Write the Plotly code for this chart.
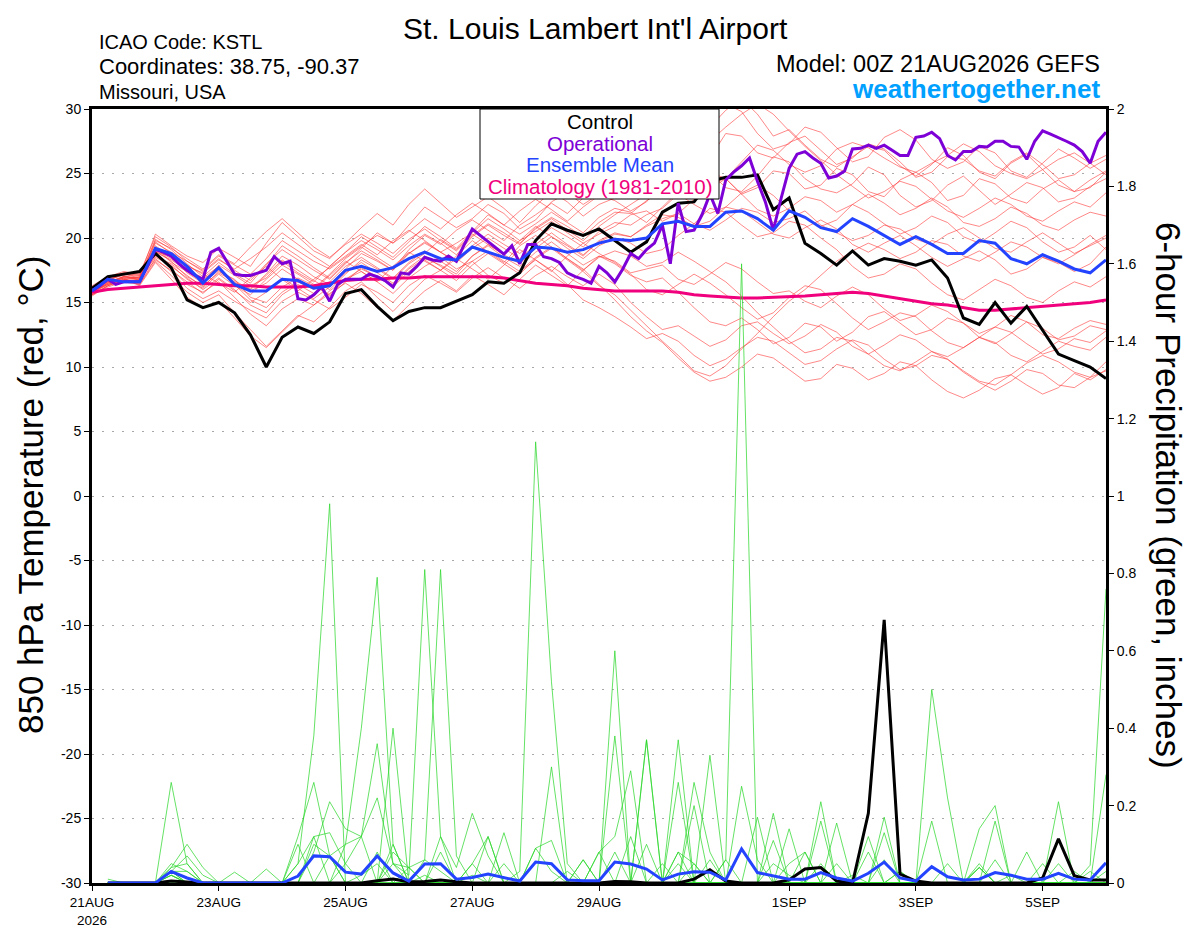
"""
GEFS 850 hPa temperature / 6-hour precipitation plume for KSTL
"""

import pandas as pd
import plotly.graph_objects as go

RUN_START = "2026-08-21 00:00"

# 850 hPa temperature (C), 6-hourly, 0..384 h
control_temp = [
    16.1, 17.0, 17.2, 17.4, 18.8, 17.7, 15.2, 14.6,
    15.0, 14.2, 12.5, 10.0, 12.3, 13.1, 12.6, 13.5,
    15.7, 16.0, 14.7, 13.6, 14.3, 14.6, 14.6, 15.1,
    15.6, 16.6, 16.5, 17.3, 19.8, 21.1, 20.6, 20.2,
    20.7, 19.8, 18.9, 19.7, 22.0, 22.7, 22.8, 24.4,
    24.7, 24.7, 24.9, 22.2, 23.1, 19.6, 18.8, 17.9,
    19.0, 17.9, 18.4, 18.2, 17.9, 18.3, 16.9, 13.8,
    13.3, 15.0, 13.4, 14.7, 12.9, 11.0, 10.5, 10.0, 9.1,
]
mean_temp = [
    15.9, 16.8, 16.6, 16.6, 19.2, 18.8, 17.8, 16.5,
    17.7, 16.4, 15.9, 15.9, 16.8, 16.7, 16.1, 16.3,
    17.5, 17.8, 17.4, 17.7, 18.4, 18.9, 18.4, 18.3,
    19.3, 18.9, 18.5, 18.2, 19.3, 19.2, 18.9, 19.1,
    19.6, 19.9, 19.8, 20.0, 21.1, 21.3, 20.9, 20.9,
    22.0, 22.1, 21.5, 20.6, 22.1, 21.6, 20.8, 20.5,
    21.5, 20.9, 20.2, 19.5, 20.1, 19.5, 18.8, 18.8,
    19.8, 19.6, 18.4, 18.0, 18.7, 18.2, 17.6, 17.3, 18.3,
]
clim_temp = [
    15.8, 16.0, 16.1, 16.2, 16.3, 16.4, 16.5, 16.5,
    16.4, 16.3, 16.3, 16.2, 16.2, 16.2, 16.3, 16.5,
    16.7, 16.8, 16.8, 16.9, 16.9, 17.0, 17.0, 17.0,
    17.0, 17.0, 16.9, 16.7, 16.5, 16.4, 16.3, 16.1,
    16.0, 15.9, 15.9, 15.9, 15.9, 15.8, 15.6, 15.5,
    15.4, 15.35, 15.35, 15.4, 15.4, 15.5, 15.6, 15.7,
    15.8, 15.7, 15.5, 15.3, 15.1, 14.9, 14.8, 14.6,
    14.4, 14.4, 14.5, 14.6, 14.7, 14.8, 14.9, 15.0, 15.2,
]
# operational run is 3-hourly, 0..384 h
oper_temp = [
    15.9, 16.3, 16.8, 16.4, 16.6, 16.6, 16.6, 17.8,
    19.1, 18.9, 18.6, 18.0, 17.5, 17.1, 16.8, 18.9,
    19.2, 18.2, 17.2, 17.1, 17.1, 17.3, 17.5, 18.55,
    18.0, 18.2, 15.3, 15.2, 15.6, 16.2, 15.1, 16.4,
    16.8, 16.8, 16.8, 17.2, 17.0, 16.7, 16.2, 17.3,
    17.2, 17.8, 18.5, 18.3, 18.2, 18.6, 18.2, 19.5,
    20.7, 20.2, 19.7, 19.2, 18.75, 19.4, 18.0, 19.5,
    19.5, 18.55, 18.4, 18.1, 17.3, 17.0, 16.8, 16.5,
    17.8, 17.3, 16.6, 17.6, 18.8, 18.4, 19.1, 19.6,
    21.0, 18.0, 22.7, 20.5, 20.6, 21.8, 23.4, 21.9,
    24.5, 25.1, 25.6, 26.2, 24.4, 22.8, 20.6, 23.1,
    25.4, 26.5, 26.7, 26.2, 25.8, 24.65, 24.8, 25.2,
    26.9, 26.95, 27.2, 26.95, 27.2, 26.8, 26.4, 26.4,
    27.8, 27.9, 28.2, 27.7, 26.4, 26.05, 26.7, 26.7,
    27.1, 27.05, 27.5, 27.5, 27.1, 27.05, 26.1, 27.5,
    28.3, 28.05, 27.8, 27.5, 27.2, 26.7, 25.8, 27.5, 28.2,
]

member_temps = [
    [15.8, 16.6, 17.0, 16.9, 19.6, 18.9, 18.2, 17.5,
     18.6, 17.9, 17.2, 18.4, 19.8, 19.0, 18.2, 17.6,
     18.5, 19.4, 20.2, 19.6, 21.0, 22.4, 21.6, 20.8,
     21.5, 22.6, 21.9, 20.7, 21.4, 22.8, 23.5, 22.6,
     23.4, 24.1, 25.3, 25.0, 26.2, 27.4, 28.9, 29.6,
     30.4, 29.8, 28.1, 26.9, 27.3, 28.6, 28.2, 27.0,
     25.9, 26.3, 27.8, 28.4, 27.6, 26.1, 25.4, 25.9,
     27.1, 26.6, 25.2, 24.7, 25.8, 26.9, 26.2, 25.4, 26.1],
    [16.2, 16.9, 17.3, 17.1, 18.8, 17.6, 16.4, 15.8,
     16.6, 15.4, 14.1, 13.2, 14.5, 15.3, 14.8, 15.9,
     16.8, 17.4, 16.6, 15.7, 16.9, 17.8, 18.5, 17.6,
     18.2, 17.1, 16.5, 17.4, 18.3, 17.5, 16.4, 15.2,
     14.6, 13.9, 13.1, 12.2, 12.6, 12.0, 10.9, 10.1,
     10.6, 11.5, 12.3, 12.0, 11.1, 10.2, 10.5, 11.4,
     12.1, 11.7, 10.6, 9.8, 10.1, 10.9, 10.6, 9.7,
     8.9, 8.6, 9.4, 10.3, 10.9, 10.4, 9.6, 9.2, 10.4],
    [15.9, 16.4, 16.8, 16.5, 19.1, 18.4, 17.6, 16.9,
     17.8, 16.5, 16.1, 17.2, 18.6, 17.9, 17.0, 16.4,
     17.6, 18.8, 18.2, 17.5, 18.8, 19.6, 18.9, 18.2,
     19.4, 20.3, 19.5, 18.8, 19.9, 20.8, 20.1, 19.3,
     20.5, 21.2, 21.0, 21.8, 22.3, 23.4, 22.6, 21.9,
     22.4, 23.5, 24.1, 23.3, 22.1, 21.6, 20.9, 21.4,
     22.6, 22.0, 21.1, 20.3, 20.8, 21.7, 21.2, 20.1,
     19.6, 20.4, 21.3, 20.8, 19.7, 18.9, 19.3, 20.2, 19.1],
    [15.6, 16.2, 16.6, 16.4, 18.2, 17.1, 15.8, 15.0,
     15.6, 14.2, 12.9, 11.6, 12.8, 14.0, 13.5, 14.6,
     15.9, 16.6, 15.4, 14.3, 15.6, 16.8, 17.5, 18.4,
     17.6, 16.8, 17.9, 19.1, 18.3, 17.4, 18.6, 19.6,
     18.8, 18.1, 17.2, 16.0, 15.6, 16.4, 17.2, 16.5,
     15.6, 14.6, 13.7, 14.2, 15.4, 16.3, 16.0, 14.9,
     13.8, 12.9, 13.5, 14.2, 13.9, 12.8, 11.9, 11.5,
     12.3, 13.1, 12.7, 11.8, 11.0, 11.4, 12.2, 11.9, 12.8],
    [16.0, 16.7, 17.2, 17.0, 20.3, 19.4, 18.6, 18.1,
     19.2, 18.5, 17.8, 19.6, 21.2, 20.1, 19.0, 18.4,
     19.6, 20.8, 21.9, 21.0, 22.6, 23.8, 22.7, 21.6,
     22.4, 23.2, 22.3, 21.2, 22.5, 23.6, 22.8, 21.7,
     22.6, 23.1, 24.5, 24.1, 23.2, 24.4, 25.7, 25.1,
     23.9, 23.6, 24.8, 26.3, 25.9, 24.6, 23.8, 23.5,
     24.2, 25.5, 24.9, 23.3, 22.4, 22.9, 24.1, 24.8,
     23.7, 22.6, 23.4, 24.3, 23.9, 22.8, 23.1, 24.0, 24.6],
    [15.7, 16.5, 16.9, 16.8, 18.6, 18.0, 17.1, 16.2,
     17.4, 16.8, 15.4, 15.0, 16.2, 16.9, 16.3, 15.6,
     16.8, 17.6, 17.0, 16.4, 17.6, 18.4, 17.9, 17.2,
     18.6, 19.5, 18.7, 18.0, 19.2, 20.1, 19.4, 18.6,
     19.8, 20.4, 20.1, 20.9, 21.5, 21.9, 21.1, 20.6,
     21.4, 22.3, 22.0, 21.2, 21.5, 22.1, 21.0, 20.4,
     19.8, 20.2, 21.0, 20.7, 19.9, 19.5, 20.3, 20.8,
     20.0, 19.2, 18.9, 19.7, 20.4, 19.6, 18.8, 19.4, 20.0],
    [16.1, 16.8, 17.1, 16.7, 19.4, 18.5, 17.3, 16.5,
     17.5, 16.4, 15.2, 14.6, 15.8, 16.6, 16.0, 17.1,
     18.2, 17.4, 16.6, 17.8, 18.9, 18.2, 17.5, 18.6,
     19.8, 18.9, 18.1, 19.4, 20.2, 19.3, 18.4, 17.6,
     16.4, 15.2, 13.9, 12.8, 11.9, 10.7, 9.6, 8.9,
     9.2, 10.0, 11.0, 10.7, 9.8, 8.9, 9.1, 10.2,
     9.9, 9.0, 9.5, 10.4, 10.1, 9.0, 8.1, 7.6,
     8.2, 9.1, 9.4, 8.6, 7.9, 8.4, 9.5, 9.0, 9.8],
    [15.5, 16.3, 16.7, 16.6, 18.9, 18.6, 17.9, 17.2,
     16.5, 15.8, 16.9, 17.8, 16.8, 15.9, 16.8, 17.7,
     18.6, 19.5, 18.7, 19.8, 20.6, 19.8, 18.9, 19.6,
     20.4, 21.5, 20.7, 19.8, 20.5, 21.3, 20.4, 19.6,
     20.3, 20.9, 21.8, 22.1, 21.3, 21.9, 23.0, 24.2,
     24.6, 23.4, 22.2, 21.7, 22.3, 23.2, 22.9, 22.0,
     22.6, 23.4, 22.7, 21.8, 22.3, 23.1, 22.4, 21.2,
     20.9, 21.5, 22.4, 21.9, 21.0, 20.6, 21.4, 22.0, 21.7],
    [16.0, 16.6, 17.0, 16.9, 19.9, 19.1, 18.0, 17.0,
     18.1, 17.2, 16.5, 17.9, 19.4, 18.6, 17.7, 16.9,
     18.1, 19.0, 18.3, 17.5, 19.1, 20.2, 19.5, 20.6,
     21.4, 20.6, 19.8, 21.0, 21.8, 22.7, 21.9, 23.1,
     24.2, 23.7, 23.1, 24.4, 25.8, 26.9, 27.4, 28.6,
     29.9, 30.8, 29.6, 27.9, 28.4, 27.2, 26.1, 25.5,
     26.3, 27.1, 26.8, 25.6, 24.8, 25.7, 27.0, 26.4,
     25.1, 24.6, 25.8, 26.5, 25.3, 24.1, 23.6, 24.5, 25.2],
    [15.8, 16.4, 16.8, 16.4, 18.4, 17.4, 16.1, 15.3,
     15.9, 15.1, 14.4, 13.8, 15.1, 15.8, 15.2, 14.5,
     15.4, 16.4, 15.8, 15.0, 16.3, 17.1, 16.5, 15.8,
     16.9, 17.7, 16.9, 16.1, 17.1, 17.8, 17.0, 16.3,
     17.2, 16.4, 15.0, 13.9, 12.9, 13.2, 12.4, 11.6,
     12.1, 13.2, 13.5, 12.6, 11.8, 12.4, 13.3, 12.7,
     11.6, 11.0, 11.7, 12.5, 12.1, 11.2, 10.8, 11.5,
     12.3, 11.9, 10.9, 10.4, 11.2, 12.0, 11.6, 11.3, 12.3],
    [15.9, 16.7, 17.2, 17.1, 19.3, 18.1, 17.4, 16.6,
     17.9, 17.1, 16.3, 16.9, 18.2, 17.3, 16.6, 17.8,
     18.9, 19.8, 19.1, 18.3, 19.4, 20.3, 19.6, 18.7,
     20.1, 21.0, 20.2, 19.5, 20.8, 21.6, 20.9, 20.1,
     21.2, 22.0, 21.9, 22.9, 23.6, 23.1, 24.2, 25.1,
     24.6, 23.4, 23.9, 25.2, 25.0, 23.8, 24.1, 25.4,
     24.9, 23.6, 23.2, 24.5, 25.1, 24.3, 22.9, 23.3,
     24.6, 24.2, 23.1, 22.7, 23.8, 24.5, 23.6, 23.9, 25.1],
    [16.3, 17.0, 17.4, 17.2, 18.7, 17.8, 16.9, 16.0,
     16.9, 16.0, 14.8, 14.2, 15.6, 16.4, 15.7, 16.6,
     17.8, 18.5, 17.7, 16.9, 18.1, 19.0, 18.2, 17.4,
     18.6, 19.4, 18.5, 17.8, 18.9, 19.7, 18.8, 17.9,
     18.6, 18.0, 17.1, 16.6, 16.9, 15.8, 14.6, 13.5,
     13.2, 13.8, 12.9, 11.8, 12.3, 13.4, 13.1, 12.0,
     12.7, 13.9, 14.3, 13.4, 12.5, 12.9, 13.8, 13.4,
     12.3, 11.8, 12.6, 13.5, 13.0, 12.1, 12.4, 13.2, 12.9],
    [15.6, 16.3, 16.8, 16.7, 19.7, 18.8, 17.8, 17.3,
     18.3, 17.6, 18.4, 19.3, 20.4, 19.5, 18.6, 17.8,
     18.9, 20.1, 19.3, 18.5, 19.7, 20.9, 20.1, 19.2,
     20.5, 21.8, 21.0, 20.3, 21.1, 22.0, 21.2, 20.4,
     21.6, 22.3, 22.0, 21.2, 22.4, 23.6, 24.1, 26.2,
     28.1, 27.9, 26.6, 26.2, 27.4, 27.9, 26.8, 25.7,
     26.2, 27.3, 26.9, 25.9, 24.7, 25.1, 26.3, 26.1,
     25.2, 24.8, 25.9, 26.6, 25.7, 24.6, 24.9, 25.8, 24.9],
    [16.1, 16.6, 16.9, 16.3, 18.1, 16.8, 15.4, 14.6,
     15.1, 13.8, 12.4, 11.5, 12.7, 13.9, 14.8, 15.7,
     16.5, 15.7, 14.6, 13.6, 14.8, 15.9, 16.7, 15.9,
     17.1, 16.4, 15.6, 16.8, 17.9, 17.1, 16.3, 17.5,
     18.6, 18.2, 17.3, 17.6, 17.9, 16.8, 16.4, 17.2,
     18.1, 17.6, 16.6, 15.7, 15.9, 15.1, 14.6, 15.5,
     16.2, 15.6, 14.5, 13.6, 14.0, 14.8, 14.3, 13.4,
     12.6, 13.1, 14.0, 13.5, 12.5, 12.2, 13.0, 13.6, 13.3],
    [15.8, 16.5, 17.0, 16.9, 19.8, 19.2, 18.4, 17.6,
     18.7, 18.0, 19.3, 20.5, 21.5, 20.4, 19.3, 18.5,
     19.5, 20.3, 19.6, 18.8, 19.9, 20.7, 19.8, 19.0,
     20.2, 21.1, 20.4, 19.6, 20.7, 21.5, 20.6, 19.8,
     20.9, 21.8, 22.6, 23.4, 24.1, 25.2, 26.4, 27.5,
     28.6, 29.6, 30.4, 29.6, 28.3, 27.1, 26.0, 24.9,
     24.0, 23.1, 23.6, 24.4, 24.0, 23.0, 22.1, 21.6,
     22.3, 23.1, 22.6, 21.7, 21.3, 22.1, 22.8, 22.4, 23.5],
    [15.7, 16.4, 16.9, 16.8, 18.5, 17.9, 16.8, 16.1,
     17.2, 16.3, 15.6, 16.8, 17.9, 17.2, 16.4, 15.5,
     16.6, 17.7, 17.0, 16.2, 17.4, 18.3, 17.5, 16.7,
     17.9, 18.8, 18.0, 17.2, 18.4, 19.2, 18.3, 17.4,
     16.3, 15.6, 14.4, 13.2, 12.0, 10.9, 9.7, 9.3,
     10.1, 11.4, 12.6, 13.9, 15.1, 16.0, 17.1, 18.2,
     19.0, 19.6, 19.1, 18.4, 18.9, 19.8, 19.5, 18.6,
     18.2, 18.9, 19.7, 19.3, 18.5, 18.0, 18.7, 19.5, 20.2],
    [16.2, 16.9, 17.3, 17.2, 20.1, 19.3, 18.2, 17.4,
     18.4, 17.5, 16.7, 18.0, 19.1, 18.3, 17.5, 16.8,
     18.0, 19.2, 20.4, 19.6, 20.5, 21.5, 20.7, 21.8,
     22.7, 21.9, 21.0, 22.1, 23.0, 22.2, 21.3, 22.4,
     23.3, 22.9, 22.1, 22.8, 24.3, 25.1, 24.7, 23.8,
     24.6, 25.9, 27.2, 26.8, 25.7, 25.1, 25.6, 26.9,
     27.4, 27.0, 26.2, 25.5, 25.1, 25.8, 26.4, 27.3,
     26.7, 25.6, 25.0, 24.6, 25.3, 26.1, 26.6, 25.8, 26.4],
    [15.9, 16.5, 17.0, 16.8, 18.3, 17.5, 16.6, 15.7,
     16.8, 15.9, 15.0, 15.8, 16.9, 16.1, 15.3, 16.2,
     17.3, 18.1, 17.3, 16.5, 17.7, 18.6, 17.8, 17.0,
     18.2, 19.0, 18.2, 17.4, 18.5, 19.3, 18.4, 17.5,
     18.5, 19.0, 18.6, 17.8, 18.1, 18.9, 18.2, 17.4,
     16.6, 15.5, 14.2, 13.1, 12.0, 11.1, 11.4, 12.3,
     12.0, 11.0, 10.1, 9.7, 10.4, 11.2, 10.6, 9.6,
     8.8, 8.2, 8.9, 9.8, 9.5, 8.6, 8.4, 9.2, 9.7],
    [16.0, 16.8, 17.2, 16.9, 19.0, 18.2, 17.0, 16.3,
     17.3, 16.6, 15.9, 16.5, 17.6, 16.8, 16.1, 17.2,
     18.4, 19.3, 18.5, 17.7, 18.8, 19.7, 18.9, 18.1,
     19.2, 20.0, 19.2, 18.4, 19.5, 20.4, 19.5, 18.7,
     19.7, 20.3, 20.1, 21.0, 21.8, 21.6, 20.9, 21.3,
     22.4, 22.1, 21.2, 20.3, 20.0, 20.8, 21.4, 20.7,
     19.5, 18.9, 19.6, 20.2, 19.4, 18.5, 17.8, 18.4,
     19.0, 18.3, 17.2, 17.6, 18.5, 18.1, 17.4, 18.0, 19.3],
    [15.6, 16.3, 16.7, 16.5, 18.9, 18.3, 17.5, 16.8,
     17.6, 16.7, 16.0, 17.1, 18.3, 17.5, 16.7, 16.0,
     17.2, 18.3, 17.6, 16.8, 18.0, 18.8, 19.9, 19.1,
     20.3, 19.5, 18.7, 19.8, 20.9, 20.1, 19.2, 18.4,
     19.4, 20.0, 19.6, 18.8, 19.1, 20.2, 21.1, 22.3,
     22.0, 21.0, 20.1, 20.4, 21.3, 21.0, 20.0, 19.1,
     17.8, 16.9, 17.2, 18.0, 17.6, 16.5, 15.6, 15.2,
     16.0, 16.8, 16.3, 15.4, 15.0, 15.9, 16.6, 16.2, 17.0],
]

# 6-hour precipitation (inches), 6..384 h
control_precip = [
    0, 0, 0, 0, 0.005, 0.003, 0, 0,
    0, 0, 0, 0, 0, 0, 0, 0,
    0, 0.006, 0.01, 0.003, 0.004, 0.008, 0.003, 0,
    0, 0, 0, 0, 0, 0, 0, 0,
    0.004, 0.003, 0, 0, 0, 0.01, 0.034, 0.005,
    0, 0, 0, 0.008, 0.036, 0.04, 0.005, 0,
    0.18, 0.68, 0.023, 0.005, 0, 0, 0, 0,
    0, 0, 0, 0.013, 0.114, 0.019, 0.008, 0.008,
]
mean_precip = [
    0, 0, 0, 0, 0.03, 0.013, 0, 0,
    0, 0, 0, 0, 0.018, 0.07, 0.068, 0.028,
    0.023, 0.07, 0.026, 0.005, 0.049, 0.05, 0.01, 0.014,
    0.023, 0.014, 0.005, 0.054, 0.05, 0.008, 0.006, 0.006,
    0.054, 0.049, 0.036, 0.008, 0.023, 0.029, 0.028, 0.008,
    0.088, 0.027, 0.018, 0.01, 0.01, 0.027, 0.013, 0.005,
    0.025, 0.054, 0.013, 0.005, 0.042, 0.016, 0.008, 0.01,
    0.027, 0.02, 0.01, 0.01, 0.025, 0.01, 0.008, 0.052,
]
member_precip = [
    [0, 0, 0, 0, 0.05, 0.03, 0, 0,
     0, 0, 0, 0, 0.05, 0.38, 0.98, 0,
     0.02, 0.05, 0, 0, 0.06, 0.03, 0, 0.05,
     0, 0.05, 0, 0.09, 0.03, 0, 0, 0,
     0.08, 0, 0, 0, 0.08, 0.05, 0, 0,
     0, 0, 0.05, 0.02, 0, 0.05, 0, 0,
     0, 0.06, 0, 0, 0, 0.05, 0, 0,
     0, 0.02, 0, 0, 0, 0, 0, 0.03],
    [0, 0, 0, 0, 0.04, 0.1, 0.04, 0,
     0, 0, 0, 0, 0.12, 0.26, 0.07, 0.1,
     0.4, 0.79, 0.1, 0, 0, 0.08, 0, 0.02,
     0, 0, 0, 0, 0, 0, 0, 0.08,
     0.12, 0.29, 0, 0, 0, 0, 0.06, 0,
     0.25, 0.06, 0, 0, 0, 0, 0, 0.02,
     0, 0, 0.03, 0, 0, 0, 0, 0.04,
     0, 0, 0, 0.05, 0, 0, 0, 0],
    [0, 0, 0, 0, 0.26, 0.05, 0, 0,
     0, 0, 0, 0, 0.05, 0.12, 0.13, 0.05,
     0.12, 0.22, 0.05, 0.02, 0.81, 0.12, 0, 0,
     0.12, 0, 0, 0, 0, 0, 0.06, 0,
     0, 0, 0.37, 0, 0, 0.2, 0, 0,
     0, 0.17, 0, 0, 0.08, 0, 0, 0,
     0.12, 0, 0, 0, 0, 0, 0, 0.04,
     0, 0, 0, 0, 0, 0.03, 0, 0],
    [0, 0, 0, 0, 0.03, 0.07, 0.02, 0,
     0.028, 0, 0, 0, 0, 0.08, 0.21, 0.14,
     0.12, 0.36, 0.05, 0.04, 0.06, 0.81, 0.07, 0,
     0, 0.13, 0, 0, 0, 0, 0, 0,
     0, 0.12, 0, 0, 0.08, 0, 0.33, 0,
     0, 0, 0.18, 0, 0, 0, 0.155, 0,
     0, 0.17, 0, 0, 0.16, 0, 0, 0,
     0, 0, 0, 0, 0, 0, 0, 0],
    [0, 0, 0, 0, 0.03, 0.03, 0, 0,
     0, 0, 0.036, 0, 0, 0.1, 0.07, 0,
     0, 0, 0, 0, 0, 0.12, 0.04, 0.18,
     0.07, 0, 0.03, 1.14, 0.52, 0.05, 0, 0,
     0, 0, 0, 0.05, 0, 0.05, 0, 0.06,
     0, 0, 0, 0, 0, 0, 0, 0,
     0, 0, 0, 0, 0.5, 0.22, 0, 0,
     0.06, 0, 0, 0, 0, 0, 0, 0],
    [0.01, 0, 0, 0, 0.02, 0, 0, 0,
     0, 0, 0, 0, 0, 0, 0, 0,
     0, 0, 0, 0, 0, 0, 0, 0.05,
     0.12, 0, 0, 0, 0.3, 0, 0.06, 0,
     0.6, 0, 0.1, 0, 0, 0.26, 0.08, 0,
     0, 0, 0.11, 0, 0, 0.21, 0, 0,
     0, 0.13, 0, 0, 0, 0, 0, 0.14,
     0.2, 0, 0, 0, 0, 0, 0, 0],
    [0, 0, 0, 0, 0, 0, 0, 0,
     0, 0, 0, 0, 0, 0, 0.07, 0,
     0, 0.08, 0, 0, 0, 0, 0, 0,
     0, 0, 0, 0, 0, 0, 0, 0,
     0, 0, 0, 0, 0.05, 0, 0, 0.06,
     1.6, 0, 0, 0, 0, 0, 0, 0,
     0, 0, 0, 0, 0, 0, 0, 0,
     0, 0, 0, 0, 0, 0, 0.046, 0.76],
    [0, 0, 0, 0, 0.02, 0, 0, 0,
     0, 0, 0, 0, 0, 0, 0, 0,
     0, 0, 0, 0.04, 0, 0, 0, 0,
     0, 0, 0, 0, 0, 0.03, 0, 0,
     0.38, 0, 0.37, 0, 0.37, 0, 0, 0,
     0, 0, 0, 0.14, 0, 0, 0.05, 0,
     0, 0, 0, 0, 0, 0, 0, 0,
     0.16, 0, 0, 0, 0.21, 0, 0, 0.28],
    [0, 0, 0, 0, 0.03, 0, 0, 0,
     0, 0, 0, 0, 0.1, 0, 0, 0,
     0, 0, 0.4, 0, 0.02, 0, 0, 0,
     0, 0, 0, 0, 0, 0, 0, 0,
     0, 0, 0, 0, 0, 0, 0, 0,
     0, 0, 0, 0, 0, 0.16, 0, 0,
     0, 0, 0, 0, 0, 0, 0, 0.05,
     0, 0, 0.08, 0, 0, 0, 0, 0],
    [0, 0, 0, 0, 0, 0, 0, 0,
     0, 0, 0, 0, 0, 0, 0, 0,
     0, 0, 0.1, 0, 0, 0, 0, 0,
     0, 0, 0, 0.09, 0.11, 0, 0, 0,
     0, 0, 0, 0, 0.26, 0, 0, 0,
     0, 0, 0, 0, 0, 0, 0, 0,
     0.08, 0, 0, 0, 0, 0, 0, 0,
     0, 0, 0, 0, 0, 0, 0, 0],
    [0, 0, 0, 0, 0.04, 0.05, 0, 0,
     0, 0, 0, 0, 0, 0.12, 0, 0,
     0, 0, 0.05, 0, 0, 0, 0, 0,
     0, 0, 0, 0, 0, 0, 0, 0.08,
     0, 0, 0, 0, 0, 0, 0, 0,
     0, 0, 0, 0.05, 0.08, 0, 0, 0,
     0, 0, 0, 0, 0, 0, 0, 0.04,
     0, 0, 0, 0, 0.05, 0, 0.03, 0],
    [0, 0, 0, 0, 0.02, 0, 0, 0,
     0, 0, 0, 0, 0, 0, 0, 0.1,
     0.12, 0, 0, 0, 0, 0, 0, 0,
     0, 0, 0, 0, 0, 0, 0, 0,
     0, 0, 0, 0, 0, 0, 0, 0,
     0, 0, 0, 0, 0, 0, 0, 0,
     0, 0, 0.03, 0, 0, 0, 0, 0,
     0, 0, 0, 0, 0, 0, 0, 0],
    [0, 0, 0, 0, 0.03, 0, 0, 0,
     0, 0, 0, 0, 0, 0, 0, 0.05,
     0, 0, 0.08, 0.04, 0, 0, 0, 0,
     0, 0, 0, 0, 0, 0, 0, 0,
     0, 0, 0, 0, 0, 0, 0, 0,
     0, 0, 0, 0, 0, 0, 0, 0,
     0, 0, 0, 0, 0, 0, 0, 0,
     0, 0, 0, 0, 0, 0, 0, 0],
]

tick_dates = ["2026-08-21", "2026-08-23", "2026-08-25", "2026-08-27",
              "2026-08-29", "2026-09-01", "2026-09-03", "2026-09-05"]
tick_labels = ["21AUG<br>2026", "23AUG", "25AUG", "27AUG",
               "29AUG", "1SEP", "3SEP", "5SEP"]
temp_ticks = [-30, -25, -20, -15, -10, -5, 0, 5, 10, 15, 20, 25, 30]
precip_ticks = [0, 0.2, 0.4, 0.6, 0.8, 1, 1.2, 1.4, 1.6, 1.8, 2]

FONT = "Liberation Sans, Arial, sans-serif"
RED = "rgba(255,55,55,0.75)"
GREEN = "rgba(40,215,40,0.9)"
BLACK = "#000000"
PURPLE = "#7d00d6"
BLUE = "#2343ff"
PINK = "#f0007c"

# page pixels of the plot frame (body margin of 8px taken into account below)
PX_L, PX_R, PX_T, PX_B = 92, 1106, 109, 883


def px(xp, yp):
    """Page pixel -> paper coordinates."""
    return (xp - PX_L) / (PX_R - PX_L), (PX_B - yp) / (PX_B - PX_T)


times6 = pd.date_range(RUN_START, periods=len(control_temp), freq="6h")
times3 = pd.date_range(RUN_START, periods=len(oper_temp), freq="3h")
ptimes = times6[1:]

for m in member_temps:
    assert len(m) == len(times6), len(m)
for p in member_precip:
    assert len(p) == len(ptimes), len(p)

fig = go.Figure()

# ensemble members: temperature (red) and precipitation (green)
for m in member_temps:
    fig.add_trace(go.Scatter(x=times6, y=m, mode="lines", yaxis="y",
                             line=dict(color=RED, width=0.8), showlegend=False))
for p in member_precip:
    fig.add_trace(go.Scatter(x=ptimes, y=p, mode="lines", yaxis="y2",
                             line=dict(color=GREEN, width=0.8), showlegend=False))

# precipitation control and mean
fig.add_trace(go.Scatter(x=ptimes, y=control_precip, mode="lines", yaxis="y2",
                         line=dict(color=BLACK, width=3), showlegend=False))
fig.add_trace(go.Scatter(x=ptimes, y=mean_precip, mode="lines", yaxis="y2",
                         line=dict(color=BLUE, width=3), showlegend=False))

# temperature climatology, control, operational and mean
fig.add_trace(go.Scatter(x=times6, y=clim_temp, mode="lines", yaxis="y",
                         line=dict(color=PINK, width=3), showlegend=False))
fig.add_trace(go.Scatter(x=times6, y=control_temp, mode="lines", yaxis="y",
                         line=dict(color=BLACK, width=3), showlegend=False))
fig.add_trace(go.Scatter(x=times3, y=oper_temp, mode="lines", yaxis="y",
                         line=dict(color=PURPLE, width=3), showlegend=False))
fig.add_trace(go.Scatter(x=times6, y=mean_temp, mode="lines", yaxis="y",
                         line=dict(color=BLUE, width=3), showlegend=False))

fig.update_layout(
    width=1200,
    height=927,
    # the page body adds 8px on the left and top
    margin=dict(l=PX_L - 8, r=1200 + 8 - PX_R, t=PX_T - 8, b=927 + 8 - PX_B),
    paper_bgcolor="white",
    plot_bgcolor="white",
    font=dict(family=FONT, color="black", size=13),
    showlegend=False,
    xaxis=dict(
        type="date",
        range=[times6[0], times6[-1]],
        tickvals=tick_dates,
        ticktext=tick_labels,
        ticks="outside",
        ticklen=5,
        tickwidth=1,
        tickcolor="black",
        showgrid=False,
        showline=True,
        linecolor="black",
        linewidth=3,
        mirror=True,
        tickfont=dict(size=13.5),
        zeroline=False,
        automargin=False,
    ),
    yaxis=dict(
        range=[-30, 30],
        tickvals=temp_ticks,
        ticktext=[str(v) for v in temp_ticks],
        ticks="outside",
        ticklen=5,
        tickcolor="black",
        showgrid=True,
        gridcolor="#a8a8a8",
        gridwidth=1,
        griddash="2px,8px",
        showline=True,
        linecolor="black",
        linewidth=3,
        zeroline=False,
        tickfont=dict(size=14),
        automargin=False,
    ),
    yaxis2=dict(
        range=[0, 2],
        overlaying="y",
        side="right",
        tickvals=precip_ticks,
        ticktext=[f"{v:g}" for v in precip_ticks],
        ticks="outside",
        ticklen=5,
        tickcolor="black",
        showgrid=False,
        showline=True,
        linecolor="black",
        linewidth=3,
        zeroline=False,
        tickfont=dict(size=14),
        automargin=False,
    ),
)

# legend box
bx0, by0 = px(480, 199)
bx1, by1 = px(719, PX_T)
fig.add_shape(type="rect", xref="paper", yref="paper", x0=bx0, x1=bx1, y0=by0, y1=by1,
              line=dict(color="black", width=1), fillcolor="white", layer="above")
legend_rows = [("Control", BLACK, 122), ("Operational", PURPLE, 143),
               ("Ensemble Mean", BLUE, 164), ("Climatology (1981-2010)", PINK, 186)]
for text, color, ypx in legend_rows:
    lx, ly = px(600, ypx)
    fig.add_annotation(text=text, xref="paper", yref="paper", x=lx, y=ly,
                       showarrow=False, font=dict(size=20.5, color=color),
                       xanchor="center", yanchor="middle")

# titles and header text
header = [
    ("St. Louis Lambert Int'l Airport", 595, 28, 30, "center", "black"),
    ("ICAO Code: KSTL", 98, 42, 20, "left", "black"),
    ("Coordinates: 38.75, -90.37", 98, 67, 22, "left", "black"),
    ("Missouri, USA", 98, 92, 20, "left", "black"),
    ("Model: 00Z 21AUG2026 GEFS", 1101, 64, 23.5, "right", "black"),
    ("<b>weathertogether.net</b>", 1101, 89, 26, "right", "#00a0ff"),
]
for text, xp, yp, size, anchor, color in header:
    hx, hy = px(xp, yp)
    fig.add_annotation(text=text, xref="paper", yref="paper", x=hx, y=hy,
                       showarrow=False, font=dict(size=size, color=color),
                       xanchor=anchor, yanchor="middle", borderpad=0)

# axis titles
tx, ty = px(31, 495)
fig.add_annotation(text="850 hPa Temperature (red, °C)", xref="paper", yref="paper",
                   x=tx, y=ty, showarrow=False, textangle=-90,
                   font=dict(size=35), xanchor="center", yanchor="middle")
tx, ty = px(1168, 495)
fig.add_annotation(text="6-hour Precipitation (green, inches)", xref="paper", yref="paper",
                   x=tx, y=ty, showarrow=False, textangle=90,
                   font=dict(size=35), xanchor="center", yanchor="middle")

fig.write_html("out.html")
